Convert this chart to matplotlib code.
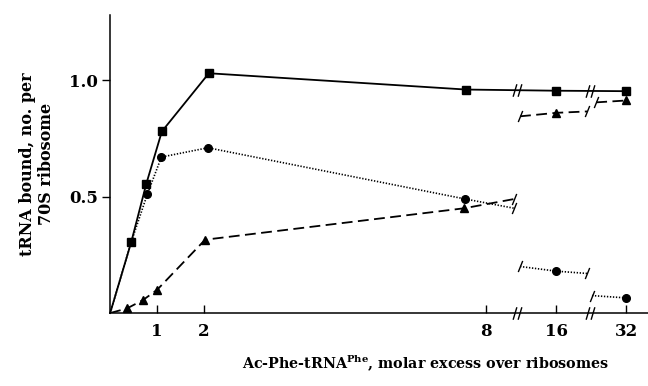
import numpy as np
import matplotlib.pyplot as plt
from matplotlib.path import Path

plt.rcParams['font.family'] = 'DejaVu Serif'
plt.rcParams['font.weight'] = 'bold'
plt.rcParams['axes.labelweight'] = 'bold'
plt.rcParams['mathtext.fontset'] = 'custom'
plt.rcParams['mathtext.bf'] = 'DejaVu Serif:bold'

# molar excess -> position along the broken axis
knot_x = [-10, 0, 8.6, 12, 16, 20, 24, 32, 48]
knot_p = [-10, 0, 8.6, 8.72, 9.49, 10.15, 10.25, 10.98, 12.46]

def fwd(x):
    return np.interp(x, knot_x, knot_p)

def inv(p):
    return np.interp(p, knot_p, knot_x)

solid_x = [0, 0.45, 0.77, 1.1, 2.1, 7.57, 16, 32]
solid_y = [0, 0.306, 0.556, 0.78, 1.03, 0.96, 0.955, 0.953]

dotted_x = [0, 0.45, 0.79, 1.09, 2.08, 7.55, 8.6]
dotted_y = [0, 0.306, 0.51, 0.67, 0.71, 0.49, 0.45]
dotted16_x = [12, 16, 20]
dotted16_y = [0.20, 0.18, 0.17]
dotted32_x = [24, 32]
dotted32_y = [0.075, 0.065]

dashed_x = [0, 0.36, 0.7, 1.0, 2.02, 7.53, 8.6]
dashed_y = [0, 0.02, 0.056, 0.1, 0.315, 0.45, 0.49]
dashed16_x = [12, 16, 20]
dashed16_y = [0.845, 0.86, 0.866]
dashed32_x = [25, 32]
dashed32_y = [0.905, 0.913]

breaks_x = [10.3, 22]
xticks = [1, 2, 8, 16, 32]
yticks = [0.5, 1.0]

slash = Path([(-0.4, -1), (0.4, 1)])
double_slash = Path([(-0.7, -1), (-0.1, 1), (0.1, -1), (0.7, 1)],
                    [Path.MOVETO, Path.LINETO, Path.MOVETO, Path.LINETO])

fig = plt.figure(figsize=(6.48, 3.86), dpi=100)
ax = fig.add_axes([0.17, 0.189, 0.83, 0.772])
ax.set_xscale('function', functions=(fwd, inv))

lw = 1.3
ms = 5.5
ax.plot(solid_x, solid_y, 'k-', lw=lw, marker='s', ms=ms, markevery=list(range(1, 8)),
        clip_on=False, zorder=3)

dot = dict(color='k', lw=1.2, ls=(0, (0.8, 1.0)))
ax.plot(dotted_x, dotted_y, marker='o', ms=ms, markevery=[2, 3, 4, 5], **dot)
ax.plot(dotted16_x, dotted16_y, marker='o', ms=ms, markevery=[1], **dot)
ax.plot(dotted32_x, dotted32_y, marker='o', ms=ms, markevery=[1], **dot)

dash = dict(color='k', lw=lw, ls=(0, (6, 3)))
ax.plot(dashed_x, dashed_y, marker='^', ms=ms, markevery=[1, 2, 3, 4, 5], **dash)
ax.plot(dashed16_x, dashed16_y, marker='^', ms=ms, markevery=[1], **dash)
ax.plot(dashed32_x, dashed32_y, marker='^', ms=ms, markevery=[1], **dash)

# stub ends at the breaks
for xs, ys, idx in [(dotted_x, dotted_y, [-1]), (dashed_x, dashed_y, [-1]),
                    (dotted16_x, dotted16_y, [0, -1]), (dashed16_x, dashed16_y, [0, -1]),
                    (dotted32_x, dotted32_y, [0]), (dashed32_x, dashed32_y, [0])]:
    ax.plot([xs[i] for i in idx], [ys[i] for i in idx], ls='none', marker=slash,
            ms=8, mew=1, color='k')

# break marks on the axis and on the solid curve
solid_at_break = np.interp(fwd(np.array(breaks_x)), fwd(np.array(solid_x)), solid_y)
ax.plot(breaks_x, [0, 0], ls='none', marker=double_slash, ms=9, mew=1,
        color='k', clip_on=False, zorder=4)
ax.plot(breaks_x, solid_at_break, ls='none', marker=double_slash, ms=9, mew=1,
        color='k', zorder=4)

ax.set_xlim(0, 37)
ax.set_ylim(0, 1.28)
ax.set_xticks(xticks)
ax.set_xticklabels([str(t) for t in xticks])
ax.set_yticks(yticks)
ax.set_yticklabels(['0.5', '1.0'])
ax.tick_params(axis='x', direction='in', length=6, width=1, pad=7, labelsize=12)
ax.tick_params(axis='y', direction='out', length=6, width=1, pad=3, labelsize=12)
ax.minorticks_off()

for s in ['top', 'right']:
    ax.spines[s].set_visible(False)
for s in ['left', 'bottom']:
    ax.spines[s].set_linewidth(1.1)

ax.set_ylabel('tRNA bound, no. per\n70S ribosome', fontsize=11.5, linespacing=1.2)
ax.yaxis.set_label_coords(-0.102, 0.5)
ax.set_xlabel(r'Ac-Phe-tRNA$^{\mathbf{Phe}}$, molar excess over ribosomes', fontsize=10.3)
ax.xaxis.set_label_coords(0.587, -0.135)

fig.savefig('out.png', dpi=100)
